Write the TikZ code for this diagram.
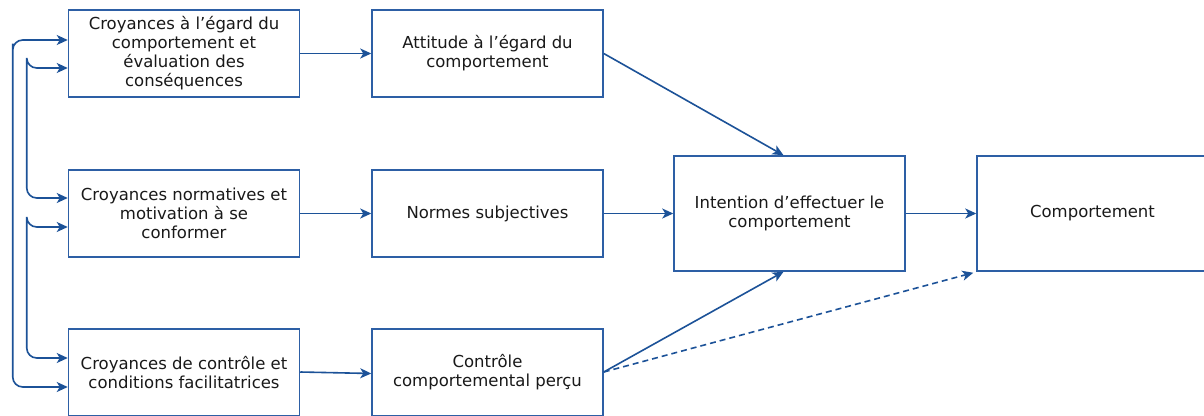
\documentclass[tikz,border=0pt]{standalone}
\usepackage{fontspec}
\setmainfont{DejaVu Sans}
\usetikzlibrary{arrows.meta,calc}
\definecolor{boxblue}{RGB}{45,95,165}
\definecolor{arrblue}{RGB}{28,82,152}
\definecolor{txt}{RGB}{25,25,25}
\tikzset{
  box/.style={draw=boxblue, line width=1.5pt, fill=white, minimum width=231pt, minimum height=87pt,
    align=center, text=txt, font=\fontsize{16.5}{19}\selectfont, inner sep=0pt},
  bigbox/.style={box, minimum height=115pt},
  conn/.style={draw=arrblue, line width=1.6pt, -{Stealth[length=11pt,width=10pt,inset=3pt]}},
  biconn/.style={draw=arrblue, line width=1.6pt, rounded corners=10pt,
    {Stealth[length=11pt,width=10pt,inset=3pt]}-{Stealth[length=11pt,width=10pt,inset=3pt]}},
  dconn/.style={conn, dash pattern=on 6pt off 4pt}
}
\begin{document}
\begin{tikzpicture}[x=1pt,y=-1pt]
\clip (0,0) rectangle (1204,415);
\fill[white] (0,0) rectangle (1204,415);
\node[box] (A) at (184,53.5) {Croyances à l'égard du\\comportement et\\évaluation des\\conséquences};
\node[box] (D) at (487.5,53.5) {Attitude à l'égard du\\comportement};
\node[box] (B) at (184,213.5) {Croyances normatives et\\motivation à se\\conformer};
\node[box] (E) at (487.5,213.5) {Normes subjectives};
\node[box] (C) at (184,372.5) {Croyances de contrôle et\\conditions facilitatrices};
\node[box] (F) at (487.5,372.5) {Contrôle\\comportemental perçu};
\node[bigbox] (G) at (789.5,213.5) {Intention d'effectuer le\\comportement};
\node[bigbox] (H) at (1092.5,213.5) {Comportement};

\draw[conn] (A.east) -- (D.west);
\draw[conn] (B.east) -- (E.west);
\draw[conn] ($(C.east)+(0,-0.5)$) -- ($(F.west)+(0,1)$);
\draw[conn] (D.east) -- ($(G.north)+(-6,0)$);
\draw[conn] (E.east) -- (G.west);
\draw[conn] ($(F.east)+(0,-0.5)$) -- ($(G.south)+(-6,0)$);
\draw[dconn] ($(F.east)+(0,-0.5)$) -- ($(H.south west)+(-3,1)$);
\draw[conn] (G.east) -- (H.west);

\draw[biconn] ($(A.west)+(0,-13.5)$) -| ($(A.west)+(-55,0)$) |- ($(C.west)+(0,14.5)$);
\draw[biconn] ($(A.west)+(0,14.5)$) -| ($(A.west)+(-41,0)$) |- ($(B.west)+(0,-15.5)$);
\draw[biconn] ($(B.west)+(0,13.5)$) -| ($(B.west)+(-41,0)$) |- ($(C.west)+(0,-14.5)$);
\end{tikzpicture}
\end{document}
